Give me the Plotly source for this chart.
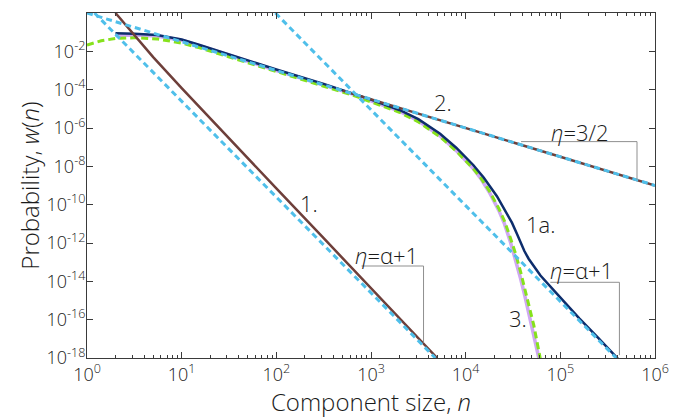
import math
import plotly.graph_objects as go

# ---------------- data (log10 values) ----------------
# Curve 1 (brown solid)
logn_c1 = [0.301, 0.477, 0.699, 1.0, 1.5, 2.0, 2.5, 3.0, 3.699]
logw_c1 = [0.0, -1.0, -2.3, -3.92, -6.55, -9.15, -11.75, -14.35, -18.0]

# Curve 1a (navy solid)
logn_c1a = [0.301, 0.5, 0.74, 1.0, 1.19, 1.617, 2.0, 2.5, 2.85, 3.0, 3.3, 3.5, 3.73, 3.9,
            4.08, 4.19, 4.33, 4.42, 4.49, 4.54, 4.58, 4.62, 4.665, 4.72, 4.79, 4.965,
            5.2, 5.4, 5.62]
logw_c1a = [-1.06, -1.08, -1.15, -1.38, -1.67, -2.36, -2.95, -3.7, -4.25, -4.52, -5.06,
            -5.54, -6.30, -7.03, -7.93, -8.58, -9.56, -10.3, -10.95, -11.5, -11.98, -12.42,
            -12.82, -13.2, -13.7, -14.65, -15.93, -16.95, -18.1]

# Curve 3 (lavender solid)
logn_c3 = [0.301, 0.5, 0.74, 1.0, 1.19, 1.617, 2.0, 2.5, 2.85, 3.0, 3.3, 3.5, 3.73, 3.9,
           4.08, 4.155, 4.25, 4.35, 4.41, 4.47, 4.53, 4.58, 4.625, 4.665, 4.72, 4.77, 4.80]
logw_c3 = [-1.17, -1.15, -1.2, -1.42, -1.7, -2.4, -3.0, -3.76, -4.3, -4.58, -5.12, -5.62,
           -6.42, -7.18, -8.12, -8.6, -9.35, -10.3, -11.0, -11.9, -12.9, -13.85, -14.75,
           -15.6, -16.7, -17.9, -18.6]

# Green dashed approximation
logn_gr = [0.0, 0.15, 0.3, 0.5, 0.74, 1.0, 1.19, 1.617, 2.0, 2.5, 2.85, 3.0, 3.3, 3.5,
           3.73, 3.9, 4.08, 4.155, 4.25, 4.35, 4.41, 4.47, 4.53, 4.58, 4.625, 4.665,
           4.72, 4.785, 4.81]
logw_gr = [-1.67, -1.45, -1.33, -1.29, -1.35, -1.57, -1.82, -2.45, -3.05, -3.82, -4.36,
           -4.64, -5.18, -5.68, -6.46, -7.2, -8.12, -8.57, -9.28, -10.2, -10.85, -11.7,
           -12.6, -13.5, -14.4, -15.2, -16.3, -17.95, -18.6]

# Straight asymptotes (end points, log10)
logn_as1 = [0.079, 3.68];   logw_as1 = [0.0, -18.0]    # eta = alpha+1 (curve 1)
logn_as2 = [0.0, 6.0];      logw_as2 = [0.0, -9.0]     # eta = 3/2
logn_as1a = [1.99, 5.59];   logw_as1a = [0.0, -18.0]   # eta = alpha+1 (curve 1a)
logn_br2 = [2.7, 6.0];      logw_br2 = [-4.05, -9.0]   # brown line 2

# slope triangles (log10)
tri_a_n = [2.9, 3.555, 3.555];   tri_a_w = [-13.2, -13.2, -17.2]
tri_b_n = [4.585, 5.81, 5.81];   tri_b_w = [-6.71, -6.71, -8.72]
tri_c_n = [4.894, 5.624, 5.624]; tri_c_w = [-14.05, -14.05, -17.85]

# text labels (text, log10 n, log10 w)
labels = [("1.", 2.347, -9.9), ("2.", 3.763, -4.64), ("1a.", 4.789, -11.0),
          ("3.", 4.556, -15.91), ("<i>η</i>=α+1", 3.161, -12.62),
          ("<i>η</i>=α+1", 5.222, -13.4), ("<i>η</i>=3/2", 5.211, -6.2)]

x_tickvals = [0, 1, 2, 3, 4, 5, 6]
x_ticktext = ["10<sup>0</sup>", "10<sup>1</sup>", "10<sup>2</sup>", "10<sup>3</sup>",
              "10<sup>4</sup>", "10<sup>5</sup>", "10<sup>6</sup>"]
y_tickvals = [0, -2, -4, -6, -8, -10, -12, -14, -16, -18]
y_ticktext = ["10<sup>0</sup>", "10<sup>-2</sup>", "10<sup>-4</sup>", "10<sup>-6</sup>",
              "10<sup>-8</sup>", "10<sup>-10</sup>", "10<sup>-12</sup>", "10<sup>-14</sup>",
              "10<sup>-16</sup>", "10<sup>-18</sup>"]

def lin(v):
    return [10.0 ** a for a in v]

# ---------------- styling ----------------
BROWN = "#6e3f3a"
NAVY = "#0d2d6c"
LAV = "#cfa8f2"
GREEN = "#86e21c"
BLUE = "#4fbfea"
GRAY = "#8f8f8f"
FONT = "Open Sans"
TXT = "#1a1a1a"

fig = go.Figure()

def add(ln, lw, color, width, dash="solid"):
    fig.add_trace(go.Scatter(x=lin(ln), y=lin(lw), mode="lines",
                             line=dict(color=color, width=width, dash=dash),
                             hoverinfo="skip", showlegend=False))

add(logn_c3, logw_c3, LAV, 3.5)
add(logn_gr, logw_gr, GREEN, 3, dash="7px,4px")
add(logn_c1a, logw_c1a, NAVY, 2.5)
add(logn_c1, logw_c1, BROWN, 2.5)
add(logn_br2, logw_br2, BROWN, 2.5)
add(logn_as1, logw_as1, BLUE, 3, dash="6px,4px")
add(logn_as2, logw_as2, BLUE, 3, dash="6px,4px")
add(logn_as1a, logw_as1a, BLUE, 3, dash="6px,4px")
for tn, tw in [(tri_a_n, tri_a_w), (tri_b_n, tri_b_w), (tri_c_n, tri_c_w)]:
    add(tn, tw, GRAY, 1)

for txt, xn, yw in labels:
    fig.add_annotation(x=xn, y=yw, text=txt, showarrow=False,
                       font=dict(family=FONT, size=22, color=TXT, weight=300))

axis_common = dict(showgrid=False, zeroline=False, showline=True, linecolor="#3a3a3a",
                   linewidth=1, mirror="ticks", ticks="inside", tickcolor="#3a3a3a",
                   automargin=False,
                   tickfont=dict(family=FONT, size=18, color=TXT, weight=300))

fig.update_xaxes(type="log", range=[0, 6], tickvals=lin(x_tickvals), ticktext=x_ticktext,
                 ticklen=6, minor=dict(ticks="inside", ticklen=3, tickcolor="#3a3a3a",
                                       dtick="D1", showgrid=False),
                 title=dict(text="Component size, <i>n</i>", standoff=0,
                            font=dict(family=FONT, size=24, color=TXT, weight=300)),
                 **axis_common)
fig.update_yaxes(type="log", range=[-18, 0], tickvals=lin(y_tickvals), ticktext=y_ticktext,
                 ticklen=6, ticklabelstandoff=-3,
                 title=dict(text="Probability, <i>w</i>(<i>n</i>)", standoff=0,
                            font=dict(family=FONT, size=24, color=TXT, weight=300)),
                 **axis_common)

fig.update_layout(width=695, height=418, margin=dict(l=87, r=40, t=13, b=60),
                  template="none", plot_bgcolor="white", paper_bgcolor="white",
                  font=dict(family=FONT, weight=300))
fig.write_html("out.html")
